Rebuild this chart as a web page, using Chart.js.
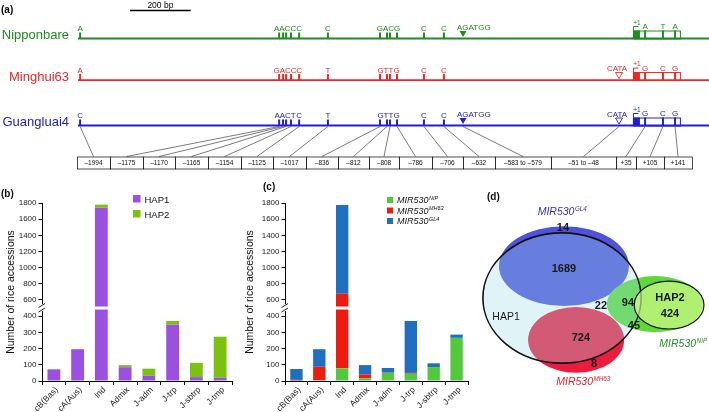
<!DOCTYPE html>
<html>
<head>
<meta charset="utf-8">
<script src="https://cdn.jsdelivr.net/npm/chart.js@4.4.1/dist/chart.umd.min.js"></script>
<style>
  html, body { margin: 0; padding: 0; background: #fff; }
  #wrap { position: relative; width: 709px; height: 412px; overflow: hidden; }
  canvas { position: absolute; }
</style>
</head>
<body>
<div id="wrap">
  <canvas id="cA" width="709" height="176" style="left:0;top:0"></canvas>
  <canvas id="cB" width="240" height="242" style="left:0;top:170px"></canvas>
  <canvas id="cC" width="245" height="242" style="left:230px;top:170px"></canvas>
  <canvas id="cD" width="239" height="242" style="left:470px;top:170px"></canvas>
</div>
<script>
const FONT = "'Liberation Sans', Arial, Helvetica, sans-serif";
Chart.defaults.font.family = FONT;
Chart.defaults.color = '#1a1a1a';

// ---- (a) promoter / gene structure
const strains = ['Nipponbare', 'Minghui63', 'Guangluai4'];
const strainColors = ['#1e8c1e', '#ee2626', '#2020cc'];
const trackRow = [0, 0.955, 2];
// schematic map positions (bp relative to +1) of each SNP group
const snpPos = [[-1825], [-1168, -1155, -1145, -1129], [-1102], [-1007], [-835, -812, -802, -779], [-690], [-624], [40], [99], [139]];
const snpAlleles = [
  ['A', 'AACC', 'C', 'C', 'GACG', 'C', 'C', 'A', 'T', 'A'],
  ['A', 'GACC', 'C', 'T', 'GTTG', 'C', 'C', 'G', 'C', 'G'],
  ['C', 'AACT', 'C', 'T', 'GTTG', 'C', 'C', 'G', 'C', 'G']
];
const indelPos = [-561, -46];
const indelSeq = ['AGATGG', 'CATA'];
const indelIn = [[true, false], [false, true], [true, true]];
const indelFilled = [true, false];
const exonStart = 0, exonEnd = 155, exonSolidEnd = 23;
const siteLabels = ['\u20131994', '\u20131175', '\u20131170', '\u20131165', '\u20131154', '\u20131125', '\u20131017', '\u2013836', '\u2013812', '\u2013808', '\u2013786', '\u2013706', '\u2013632', '\u2013583 to \u2013579', '\u201351 to \u201348', '+35', '+105', '+141'];
const boxWidths = [33, 33, 32, 33, 33, 32, 33, 32, 31, 30, 33, 31, 32, 56, 65, 20, 28, 28];
const scaleBarBp = 200, scaleBarStart = -1660;

// ---- (b)/(c) accessions per subpopulation
const popLabels = ['cB(Bas)', 'cA(Aus)', 'Ind', 'Admix', 'J-adm', 'J-trp', 'J-sbtrp', 'J-tmp'];
const hap1 = [72, 196, 1742, 85, 33, 348, 24, 20];
const hap2 = [0, 0, 38, 13, 43, 22, 88, 253];
const mirNip = [3, 5, 78, 16, 50, 45, 86, 266];
const mirMh63 = [4, 83, 599, 24, 2, 5, 0, 0];
const mirGl4 = [67, 108, 1098, 58, 28, 320, 23, 20];
const mirSup = ['NIP', 'MH63', 'GL4'];
const yTicks = [0, 100, 200, 300, 400, 600, 800, 1000, 1200, 1400, 1600, 1800];
const yTitle = 'Number of rice accessions';
const brkLow = 450, brkHigh = 500, lowShare = 0.41; // axis break

// ---- (d) venn
const vennSets = ['GL4', 'MH63', 'NIP', 'HAP1', 'HAP2'];
const vennCx = [39.3, 44.4, 77.4, 38.5, 83.3];
const vennCy = [39.7, 70.2, 55.4, 52.9, 55.8];
const vennRx = [27.2, 20.1, 20.1, 33.1, 14.6];
const vennRy = [16.5, 13.6, 11.6, 26.9, 9.9];
const vennCounts = [14, 1689, 22, 94, 424, 45, 724, 8];
const vennCountX = [38.9, 39.3, 54.8, 66.1, 83.7, 68.6, 46.4, 51.9];
const vennCountY = [24.0, 40.9, 56.2, 55.0, 59.5, 64.5, 69.4, 80.2];

function supText(ctx, base, sup, x, y, size, align, color) {
  ctx.fillStyle = color;
  ctx.textBaseline = 'alphabetic';
  ctx.textAlign = 'left';
  ctx.font = `italic ${size}px ${FONT}`;
  const w1 = ctx.measureText(base).width;
  ctx.font = `italic ${size * 0.6}px ${FONT}`;
  const w2 = ctx.measureText(sup).width;
  const x0 = align === 'center' ? x - (w1 + w2) / 2 : x;
  ctx.font = `italic ${size}px ${FONT}`;
  ctx.fillText(base, x0, y);
  ctx.font = `italic ${size * 0.6}px ${FONT}`;
  ctx.fillText(sup, x0 + w1 + 0.5, y - size * 0.38);
}

// y scale with a gap between brkLow and brkHigh
class BrokenScale extends Chart.LinearScale {
  static id = 'broken';
  buildTicks() { return yTicks.map(v => ({ value: v })); }
  getPixelForValue(v) {
    const h = this.bottom - this.top, yb = this.bottom - h * lowShare;
    if (v <= brkLow) return this.bottom - v / brkLow * h * lowShare;
    if (v < brkHigh) return yb;
    return yb - (v - brkHigh) / (this.max - brkHigh) * (yb - this.top);
  }
  getValueForPixel(p) {
    const h = this.bottom - this.top, yb = this.bottom - h * lowShare;
    if (p >= yb) return (this.bottom - p) / (h * lowShare) * brkLow;
    return brkHigh + (yb - p) / (yb - this.top) * (this.max - brkHigh);
  }
}
Chart.register(BrokenScale);

const geneTracks = {
  id: 'geneTracks',
  afterDraw(chart) {
    const { ctx, chartArea: ca, scales: { x, y } } = chart;
    const px = v => x.getPixelForValue(v);
    ctx.save();
    ctx.fillStyle = '#000';
    ctx.font = `bold 10px ${FONT}`;
    ctx.textAlign = 'left';
    ctx.fillText('(a)', 1, 13);
    // scale bar
    ctx.strokeStyle = '#000'; ctx.lineWidth = 1.5;
    ctx.beginPath(); ctx.moveTo(px(scaleBarStart), 10.5); ctx.lineTo(px(scaleBarStart + scaleBarBp), 10.5); ctx.stroke();
    ctx.font = `8.5px ${FONT}`; ctx.textAlign = 'center';
    ctx.fillText(scaleBarBp + ' bp', px(scaleBarStart + scaleBarBp / 2), 7.5);

    strains.forEach((name, i) => {
      const ty = y.getPixelForValue(trackRow[i]);
      const col = strainColors[i];
      ctx.fillStyle = col; ctx.strokeStyle = col;
      ctx.font = `13px ${FONT}`; ctx.textAlign = 'right'; ctx.textBaseline = 'alphabetic';
      ctx.fillText(name, ca.left - 9, ty + 0.5);
      ctx.lineWidth = 1.8;
      ctx.beginPath(); ctx.moveTo(ca.left, ty); ctx.lineTo(ca.right, ty); ctx.stroke();

      // first exon with TSS
      const e0 = px(exonStart), e1 = px(exonEnd), eh = 8;
      ctx.lineWidth = 1;
      ctx.strokeRect(e0 + 0.5, ty - eh + 0.5, e1 - e0, eh);
      ctx.fillRect(e0, ty - eh, px(exonSolidEnd) - e0, eh);
      ctx.beginPath(); ctx.moveTo(e0 + 0.5, ty - eh); ctx.lineTo(e0 + 0.5, ty - eh - 4); ctx.lineTo(e0 + 5.5, ty - eh - 4); ctx.stroke();
      ctx.font = `6.5px ${FONT}`; ctx.textAlign = 'center';
      ctx.fillText('+1', e0 + 4, ty - eh - 6);

      snpPos.forEach((grp, g) => {
        const inExon = grp[0] >= exonStart && grp[0] <= exonEnd;
        const th = inExon ? eh : 6;
        grp.forEach(p => ctx.fillRect(px(p) - 1, ty - th, 2, th));
        const cx = (px(grp[0]) + px(grp[grp.length - 1])) / 2;
        ctx.font = `8px ${FONT}`; ctx.textAlign = 'center';
        ctx.fillText(snpAlleles[i][g], cx, ty - th - 1.5);
      });

      indelPos.forEach((p, k) => {
        if (!indelIn[i][k]) return;
        const cx = px(p);
        ctx.beginPath();
        ctx.moveTo(cx - 3.5, ty - 7.5); ctx.lineTo(cx + 3.5, ty - 7.5); ctx.lineTo(cx, ty - 1.5); ctx.closePath();
        if (indelFilled[k]) ctx.fill();
        else { ctx.fillStyle = '#fff'; ctx.fill(); ctx.lineWidth = 0.9; ctx.stroke(); ctx.fillStyle = col; }
        ctx.font = `8px ${FONT}`;
        if (indelFilled[k]) { ctx.textAlign = 'left'; ctx.fillText(indelSeq[k], cx - 6, ty - 9); }
        else { ctx.textAlign = 'center'; ctx.fillText(indelSeq[k], cx - 2, ty - 9); }
      });
    });

    // connectors to the position boxes
    const sites = snpPos.flat().concat(indelPos).sort((a, b) => a - b);
    const ty = y.getPixelForValue(trackRow[2]);
    const boxTop = ty + 31, boxH = 12;
    let bx = ca.left - 1;
    ctx.font = `6.5px ${FONT}`; ctx.textAlign = 'center'; ctx.textBaseline = 'middle';
    ctx.fillStyle = '#111';
    sites.forEach((p, k) => {
      const w = boxWidths[k];
      ctx.strokeStyle = '#444'; ctx.lineWidth = 0.7;
      ctx.beginPath(); ctx.moveTo(px(p), ty + 1); ctx.lineTo(bx + w / 2, boxTop); ctx.stroke();
      ctx.strokeStyle = '#222'; ctx.lineWidth = 0.8;
      ctx.strokeRect(bx + 0.5, boxTop + 0.5, w, boxH);
      ctx.fillText(siteLabels[k], bx + w / 2, boxTop + boxH / 2 + 1);
      bx += w;
    });
    ctx.restore();
  }
};

new Chart(document.getElementById('cA'), {
  type: 'scatter',
  data: { datasets: [{ data: snpPos.flat().map(p => ({ x: p, y: 2 })), pointRadius: 0 }] },
  options: {
    responsive: false, animation: false, events: [],
    layout: { padding: { left: 78, right: 0, top: 38.5, bottom: 50.5 } },
    scales: {
      x: { display: false, min: -1832, max: 251 },
      y: { display: false, min: 0, max: 2, reverse: true }
    },
    plugins: { legend: { display: false }, tooltip: { enabled: false } }
  },
  plugins: [geneTracks]
});

const axisBreak = {
  id: 'axisBreak',
  afterDraw(chart) {
    const { ctx, chartArea: ca, scales: { y } } = chart;
    const yb = y.getPixelForValue(brkLow);
    ctx.save();
    ctx.fillStyle = '#fff';
    ctx.fillRect(ca.left + 1, yb - 1.5, ca.right - ca.left, 3);
    ctx.fillRect(ca.left - 4, yb - 4, 8, 7);
    ctx.strokeStyle = '#000'; ctx.lineWidth = 0.9;
    [-2.5, 2].forEach(d => {
      ctx.beginPath(); ctx.moveTo(ca.left - 3.5, yb + d + 2); ctx.lineTo(ca.left + 3, yb + d - 2); ctx.stroke();
    });
    ctx.restore();
  }
};

function panelDecor(o) {
  return {
    id: 'panelDecor',
    afterDraw(chart) {
      const { ctx, chartArea: ca } = chart;
      ctx.save();
      ctx.fillStyle = '#111';
      ctx.font = `bold 10px ${FONT}`; ctx.textAlign = 'left'; ctx.textBaseline = 'alphabetic';
      ctx.fillText(o.tag, o.tagX, o.tagY);
      ctx.translate(o.titleX, (ca.top + ca.bottom) / 2);
      ctx.rotate(-Math.PI / 2);
      ctx.font = `10.5px ${FONT}`; ctx.textAlign = 'center'; ctx.textBaseline = 'middle';
      ctx.fillText(yTitle, 0, 0);
      ctx.restore();

      ctx.save();
      chart.data.datasets.forEach((ds, i) => {
        const yy = o.legY + i * o.legDy;
        ctx.fillStyle = ds.backgroundColor;
        ctx.fillRect(o.legX, yy, o.legBox, o.legBox);
        const tx = o.legX + o.legBox + 4, tyy = yy + o.legBox;
        if (o.sups) supText(ctx, ds.label, o.sups[i], tx, tyy, 9, 'left', '#111');
        else {
          ctx.fillStyle = '#111'; ctx.font = `9.5px ${FONT}`; ctx.textAlign = 'left'; ctx.textBaseline = 'alphabetic';
          ctx.fillText(ds.label, tx, tyy);
        }
      });
      ctx.restore();
    }
  };
}

function barOptions(yWidth, rightPad) {
  return {
    responsive: false, animation: false, events: [],
    layout: { padding: { top: 33, right: rightPad, left: 0, bottom: 0 } },
    datasets: { bar: { barPercentage: 0.54, categoryPercentage: 1 } },
    scales: {
      x: {
        stacked: true,
        grid: { offset: true, drawOnChartArea: false, tickLength: 4, color: '#000' },
        border: { color: '#000', width: 1 },
        ticks: { font: { size: 8.5 }, color: '#222', minRotation: 45, maxRotation: 45, padding: 0, labelOffset: 3, autoSkip: false },
        afterFit: s => { s.height = 31; }
      },
      y: {
        type: 'broken', stacked: true, min: 0, max: 1800,
        grid: { drawOnChartArea: false, tickLength: 3.5, color: '#000' },
        border: { color: '#000', width: 1 },
        ticks: { font: { size: 8 }, color: '#222', padding: 2, autoSkip: false, callback: v => String(v) },
        afterFit: s => { s.width = yWidth; }
      }
    },
    plugins: { legend: { display: false }, tooltip: { enabled: false } }
  };
}

new Chart(document.getElementById('cB'), {
  type: 'bar',
  data: {
    labels: popLabels,
    datasets: [
      { label: 'HAP1', data: hap1, backgroundColor: '#9b50e0' },
      { label: 'HAP2', data: hap2, backgroundColor: '#7ac20e' }
    ]
  },
  options: barOptions(42, 8),
  plugins: [axisBreak, panelDecor({ tag: '(b)', tagX: 1, tagY: 27, titleX: 11, legX: 133, legY: 25, legBox: 7.5, legDy: 15 })]
});

new Chart(document.getElementById('cC'), {
  type: 'bar',
  data: {
    labels: popLabels,
    datasets: [
      { label: 'MIR530', data: mirNip, backgroundColor: '#52c93c' },
      { label: 'MIR530', data: mirMh63, backgroundColor: '#ee1c10' },
      { label: 'MIR530', data: mirGl4, backgroundColor: '#1f6ec0' }
    ]
  },
  options: barOptions(55, 7),
  plugins: [axisBreak, panelDecor({ tag: '(c)', tagX: 33, tagY: 20, titleX: 20, legX: 157, legY: 27, legBox: 6, legDy: 10.5, sups: mirSup })]
});

const vennPlugin = {
  id: 'venn',
  beforeDatasetsDraw(chart) {
    const { ctx, scales: { x, y } } = chart;
    const ell = (i) => {
      const cx = x.getPixelForValue(vennCx[i]), cy = y.getPixelForValue(vennCy[i]);
      const rx = x.getPixelForValue(vennCx[i] + vennRx[i]) - cx;
      const ry = y.getPixelForValue(vennCy[i] + vennRy[i]) - cy;
      ctx.beginPath(); ctx.ellipse(cx, cy, Math.abs(rx), Math.abs(ry), 0, 0, Math.PI * 2);
    };
    const fills = ['#4f52dc', '#ec1c3e', '#5fd83a', 'rgba(160,220,230,0.32)', 'rgba(225,255,150,0.62)'];
    ctx.save();
    ctx.fillStyle = '#111';
    ctx.font = `bold 10px ${FONT}`; ctx.textAlign = 'left';
    ctx.fillText('(d)', 17, 30);
    vennSets.forEach((s, i) => {
      ell(i);
      ctx.fillStyle = fills[i];
      ctx.fill();
      if (s.startsWith('HAP')) { ctx.strokeStyle = '#111'; ctx.lineWidth = i === 3 ? 1.6 : 1.2; ctx.stroke(); }
    });

    ctx.fillStyle = '#1a1a1a';
    ctx.textAlign = 'center'; ctx.textBaseline = 'middle';
    vennCounts.forEach((n, i) => {
      ctx.font = `bold 11px ${FONT}`;
      ctx.fillText(String(n), x.getPixelForValue(vennCountX[i]), y.getPixelForValue(vennCountY[i]));
    });
    ctx.font = `10.5px ${FONT}`;
    ctx.fillText('HAP1', x.getPixelForValue(15.1), y.getPixelForValue(60.7));
    ctx.font = `bold 11px ${FONT}`;
    ctx.fillText('HAP2', x.getPixelForValue(83.7), y.getPixelForValue(52.9));

    supText(ctx, 'MIR530', 'GL4', x.getPixelForValue(38.5), y.getPixelForValue(18.6), 10.5, 'center', '#3030c8');
    supText(ctx, 'MIR530', 'MH63', x.getPixelForValue(47.3), y.getPixelForValue(88.8), 10.5, 'center', '#e41e2a');
    supText(ctx, 'MIR530', 'NIP', x.getPixelForValue(89.1), y.getPixelForValue(73.1), 10.5, 'center', '#2a8c2a');
    ctx.restore();
  }
};

new Chart(document.getElementById('cD'), {
  type: 'scatter',
  data: { datasets: [{ data: vennCountX.map((v, i) => ({ x: v, y: vennCountY[i] })), pointRadius: 0 }] },
  options: {
    responsive: false, animation: false, events: [],
    layout: { padding: 0 },
    scales: {
      x: { display: false, min: 0, max: 100 },
      y: { display: false, min: 0, max: 100, reverse: true }
    },
    plugins: { legend: { display: false }, tooltip: { enabled: false } }
  },
  plugins: [vennPlugin]
});
</script>
</body>
</html>
